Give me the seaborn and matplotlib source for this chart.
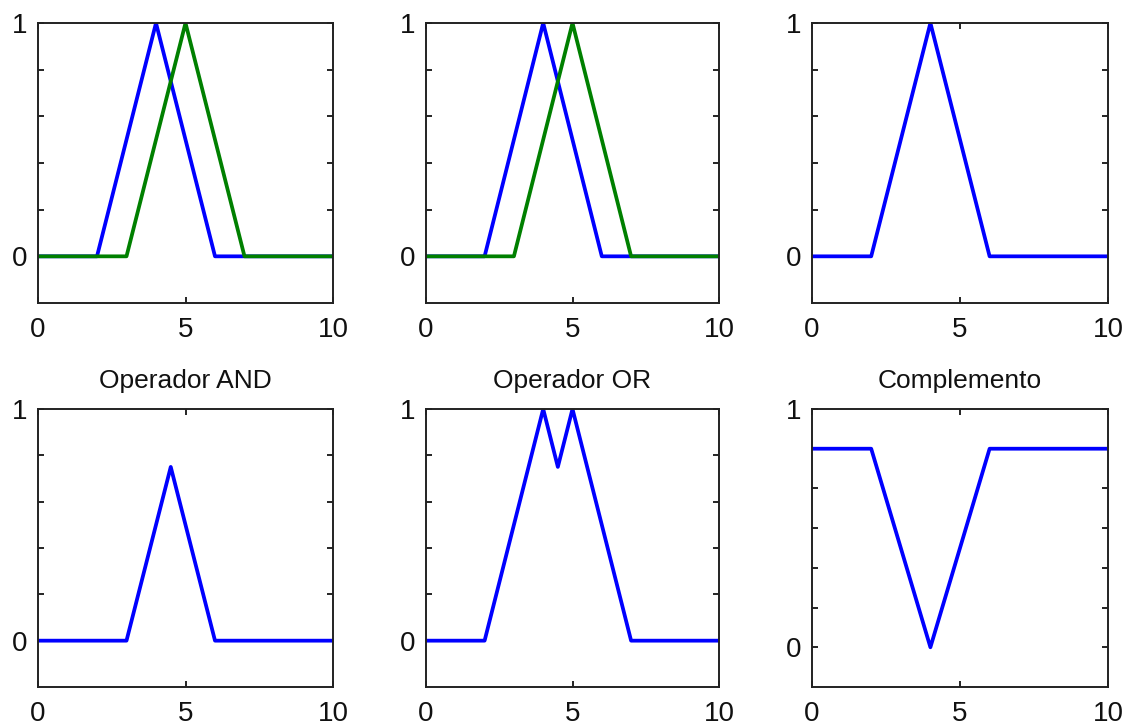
import numpy as np
import pandas as pd
import matplotlib
matplotlib.use("Agg")
import matplotlib.pyplot as plt
import seaborn as sns

# --- data ---
x_blue = [0, 2, 4, 6, 10]
y_blue = [0, 0, 1, 0, 0]
x_green = [0, 3, 5, 7, 10]
y_green = [0, 0, 1, 0, 0]
x_and = [0, 3, 4.5, 6, 10]
y_and = [0, 0, 0.75, 0, 0]
x_or = [0, 2, 4, 4.5, 5, 7, 10]
y_or = [0, 0, 1, 0.75, 1, 0, 0]
x_comp = [0, 2, 4, 6, 10]
y_comp = [1, 1, 0, 1, 1]
titles = ["", "", "", "Operador AND", "Operador OR", "Complemento"]
x_ticks = [0, 5, 10]
x_tick_labels = ["0", "5", "10"]

sns.set_style("white")
plt.rcParams['font.family'] = ['Liberation Sans', 'DejaVu Sans']

BLUE = "#0000ff"
GREEN = "#008000"
LW = 2.7

fig = plt.figure(figsize=(11.42, 7.25), dpi=100)
W, H = 1142, 725
lefts = [38, 426, 812]
rights = [333, 719, 1108]
tops = [23, 409]
bottoms = [303, 687]

axes = []
for r in range(2):
    for c in range(3):
        ax = fig.add_axes([lefts[c] / W, 1 - bottoms[r] / H,
                           (rights[c] - lefts[c]) / W, (bottoms[r] - tops[r]) / H])
        axes.append(ax)

def draw(ax, xs, ys, color):
    df = pd.DataFrame({"x": xs, "y": ys})
    sns.lineplot(data=df, x="x", y="y", ax=ax, color=color, linewidth=LW,
                 estimator=None, sort=False)

draw(axes[0], x_blue, y_blue, BLUE)
draw(axes[0], x_green, y_green, GREEN)
draw(axes[1], x_blue, y_blue, BLUE)
draw(axes[1], x_green, y_green, GREEN)
draw(axes[2], x_blue, y_blue, BLUE)
draw(axes[3], x_and, y_and, BLUE)
draw(axes[4], x_or, y_or, BLUE)
draw(axes[5], x_comp, y_comp, BLUE)

for i, ax in enumerate(axes):
    ax.set_xlim(0, 10)
    ax.set_xticks(x_ticks)
    ax.set_xticklabels(x_tick_labels)
    if i == 5:
        ax.set_ylim(-0.2, 1.2)
        yt = [0, 0.2, 0.4, 0.6, 0.8, 1.0, 1.2]
        ax.set_yticks(yt)
        ax.set_yticklabels(["0", "", "", "", "", "", "1"])
    else:
        ax.set_ylim(-0.2, 1.0)
        yt = [0, 0.2, 0.4, 0.6, 0.8, 1.0]
        ax.set_yticks(yt)
        ax.set_yticklabels(["0", "", "", "", "", "1"])
    ax.set_xlabel("")
    ax.set_ylabel("")
    ax.tick_params(direction="in", length=4, width=1.2, colors="black",
                   top=True, right=True, left=True, bottom=True,
                   labelsize=20, labelcolor="#111111")
    ax.tick_params(axis="x", pad=10)
    ax.tick_params(axis="y", pad=8)
    for s in ax.spines.values():
        s.set_visible(True)
        s.set_color("#222222")
        s.set_linewidth(1.4)
    if titles[i]:
        ax.set_title(titles[i], fontsize=19, pad=15, color="#111111")

fig.savefig("out.png", dpi=100)
